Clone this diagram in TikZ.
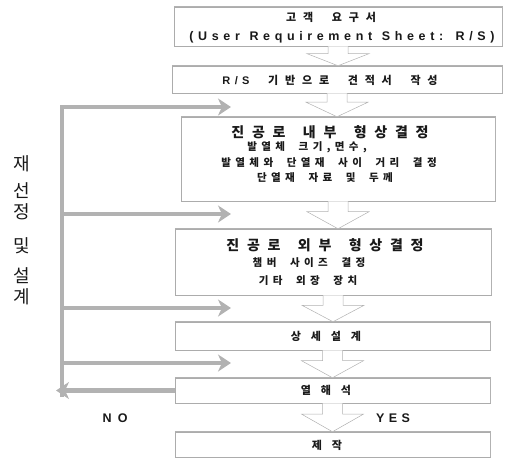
\documentclass[tikz,border=0pt]{standalone}
\usepackage{fontspec}
\usetikzlibrary{arrows.meta,calc}
\newfontfamily\krT{Noto Sans CJK KR}[LetterSpace=55,WordSpace=1.6]
\newfontfamily\krM{Noto Sans CJK KR}[LetterSpace=62,WordSpace=2.0]
\newfontfamily\krS{Noto Sans CJK KR}[LetterSpace=42,WordSpace=2.0]
\newfontfamily\krX{Noto Sans CJK KR}[LetterSpace=90]
\newfontfamily\krV{Noto Sans CJK KR}
\newfontfamily\latL{Liberation Sans}[LetterSpace=37,WordSpace=1.2]
\newfontfamily\latS{Liberation Sans}[LetterSpace=40]
\newfontfamily\latN{Liberation Sans}[LetterSpace=50]
\newfontfamily\latY{Liberation Sans}[LetterSpace=35]
\newcommand\fTitle{\krT\bfseries\fontsize{14}{16}\selectfont}
\newcommand\fMid{\krM\bfseries\fontsize{11}{13}\selectfont}
\newcommand\fSub{\krS\bfseries\fontsize{10.5}{12}\selectfont}
\newcommand\fSmall{\krX\bfseries\fontsize{11}{13}\selectfont}
\newcommand\fLat{\latL\bfseries\fontsize{12.5}{14}\selectfont}
\newcommand\fLatS{\latS\bfseries\fontsize{11}{13}\selectfont}
\newcommand\fSide{\krV\fontsize{18}{21}\selectfont}
\newcommand\hollowdown[2]{%
  \coordinate (hs) at (#1.south);
  \coordinate (ht) at (#1.south |- #2.north);
  \coordinate (hm) at ($(hs)!0.38!(ht)$);
  \draw[harr] ($(hs)+(-10,0)$) -- ($(hm)+(-10,0)$) -- ($(hm)+(-31,0)$) -- (ht)
     -- ($(hm)+(31,0)$) -- ($(hm)+(10,0)$) -- ($(hs)+(10,0)$);
}
\tikzset{
  box/.style={draw=gray!65, line width=0.5pt, inner sep=0pt},
  boxedge/.style={draw=gray!60, line width=1.3pt},
  t/.style={inner sep=0pt, text=black!90},
  harr/.style={draw=gray!60, line width=0.5pt, fill=white},
  fb/.style={draw=gray!60, line width=4.5pt},
  fbtip/.style={fb, -{Stealth[length=13pt,width=17pt,inset=4pt]}},
}
\begin{document}
\begin{tikzpicture}[x=1pt,y=-1pt]
\useasboundingbox (0,0) rectangle (510,458);
% boxes
\node[box, minimum width=328pt, minimum height=39pt] (b1) at (338,26.5) {};
\node[box, minimum width=330pt, minimum height=27pt] (b2) at (337,79.5) {};
\node[box, minimum width=314pt, minimum height=84pt] (b3) at (338,159) {};
\node[box, minimum width=316pt, minimum height=66pt] (b4) at (333,262) {};
\node[box, minimum width=315pt, minimum height=28pt] (b5) at (332.5,336) {};
\node[box, minimum width=315pt, minimum height=25pt] (b6) at (332.5,390.5) {};
\node[box, minimum width=315pt, minimum height=25pt] (b7) at (332.5,444.5) {};
\foreach \b in {b1,b2,b3,b4,b5,b6,b7}
  \draw[boxedge] (\b.north west) -- (\b.north east) -- (\b.south east);
% hollow arrows
\hollowdown{b1}{b2}
\hollowdown{b2}{b3}
\hollowdown{b3}{b4}
\hollowdown{b4}{b5}
\hollowdown{b5}{b6}
\hollowdown{b6}{b7}
% texts
\node[t, font=\fMid] (b1a) at (331,17) {고객 요구서};
\node[t, font=\fLat] (b1b) at (342,37) {(User Requirement Sheet: R/S)};
\node[t, font=\fMid] (b2a) at (330,80) {{\fLatS R/S} 기반으로 견적서 작성};
\node[t, font=\fTitle] (b3a) at (330,132) {진공로 내부 형상결정};
\node[t, font=\fSub] (b3b) at (307,147.5) {발열체 크기,면수,};
\node[t, font=\fSub] (b3c) at (329,163) {발열체와 단열재 사이 거리 결정};
\node[t, font=\fSub] (b3d) at (325,178) {단열재 자료 및 두께};
\node[t, font=\fTitle] (b4a) at (325,245) {진공로 외부 형상결정};
\node[t, font=\fSub] (b4b) at (309,263) {챔버 사이즈 결정};
\node[t, font=\fSub] (b4c) at (308,281) {기타 외장 장치};
\node[t, font=\fSmall] (b5a) at (326,336) {상세설계};
\node[t, font=\fSmall] (b6a) at (326,390.5) {열해석};
\node[t, font=\fSmall] (b7a) at (327,445) {제작};
% feedback loop
\coordinate (vb) at (62,397);
\coordinate (v1) at (62,107); \coordinate (e1) at (231,107);
\coordinate (v2) at (62,214); \coordinate (e2) at (231,214);
\coordinate (v3) at (62,308); \coordinate (e3) at (231,308);
\coordinate (v4) at (62,363); \coordinate (e4) at (231,363);
\coordinate (rt) at (56,392);
\draw[fbtip, line join=miter] (vb) -- (v1) -- (e1);
\draw[fbtip] (v2) -- (e2);
\draw[fbtip] (v3) -- (e3);
\draw[fbtip] (v4) -- (e4);
\draw[fbtip] (b6.west) -- (b6.west -| rt);
% labels
\node[t, font=\latN\bfseries\fontsize{12.5}{14}\selectfont] (no) at (115,418) {NO};
\node[t, font=\latY\bfseries\fontsize{12.5}{14}\selectfont] (yes) at (393,418) {YES};
\node[t, font=\fSide] (s1) at (22,164) {재};
\node[t, font=\fSide, align=center] (s2) at (22,201.5) {선\\정};
\node[t, font=\fSide] (s3) at (22,246) {및};
\node[t, font=\fSide, align=center] (s4) at (22,286.5) {설\\계};
\end{tikzpicture}
\end{document}
